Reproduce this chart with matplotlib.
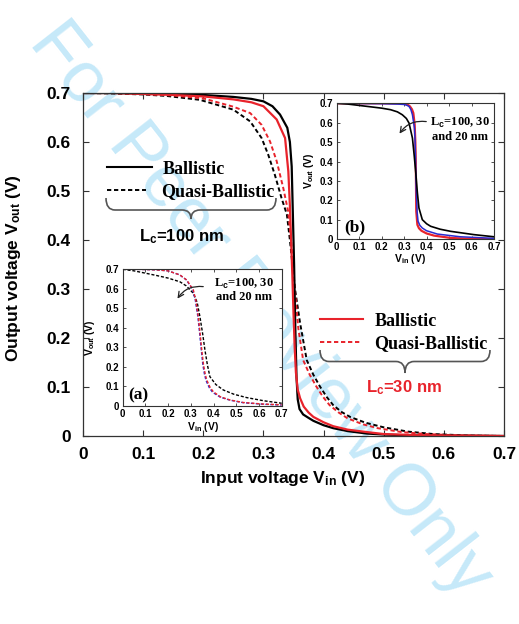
import matplotlib
matplotlib.use('Agg')
import matplotlib.pyplot as plt
from matplotlib.path import Path
from matplotlib.patches import PathPatch

plt.rcParams['mathtext.fontset'] = 'custom'
plt.rcParams['mathtext.rm'] = 'Liberation Sans:bold'
plt.rcParams['mathtext.bf'] = 'Liberation Sans:bold'
plt.rcParams['mathtext.it'] = 'Liberation Sans:bold'
plt.rcParams['mathtext.sf'] = 'Liberation Sans:bold'

# ---------------- data ----------------
ticks = [0, 0.1, 0.2, 0.3, 0.4, 0.5, 0.6, 0.7]
tick_labels = ['0', '0.1', '0.2', '0.3', '0.4', '0.5', '0.6', '0.7']

# main panel
bal100_x = [0, 0.05, 0.10, 0.15, 0.20, 0.25, 0.28, 0.30, 0.315, 0.3276, 0.3397, 0.344, 0.347, 0.349,
            0.351, 0.353, 0.355, 0.357, 0.360, 0.366, 0.375, 0.383, 0.40, 0.416, 0.44, 0.472, 0.50, 0.55, 0.60, 0.70]
bal100_y = [0.700, 0.700, 0.699, 0.698, 0.696, 0.692, 0.688, 0.683, 0.673, 0.656, 0.629, 0.600, 0.55, 0.45,
            0.35, 0.22, 0.12, 0.075, 0.055, 0.044, 0.037, 0.031, 0.022, 0.016, 0.010, 0.005, 0.003, 0.001, 0.0005, 0.0]

bal30_x = [0, 0.05, 0.10, 0.15, 0.20, 0.25, 0.28, 0.30, 0.322, 0.336, 0.3414, 0.344, 0.346, 0.348, 0.350,
           0.352, 0.354, 0.357, 0.361, 0.367, 0.375, 0.383, 0.40, 0.416, 0.44, 0.472, 0.50, 0.55, 0.60, 0.70]
bal30_y = [0.700, 0.700, 0.698, 0.696, 0.693, 0.687, 0.681, 0.673, 0.646, 0.608, 0.540, 0.47, 0.40, 0.33, 0.25,
           0.18, 0.13, 0.095, 0.077, 0.060, 0.048, 0.039, 0.028, 0.020, 0.013, 0.008, 0.004, 0.002, 0.001, 0.0]

qb100_x = [0, 0.05, 0.10, 0.139, 0.1945, 0.25, 0.278, 0.297, 0.308, 0.319, 0.330, 0.339, 0.344, 0.3525, 0.361,
           0.372, 0.383, 0.394, 0.405, 0.416, 0.43, 0.444, 0.47, 0.499, 0.54, 0.5825, 0.63, 0.70]
qb100_y = [0.700, 0.699, 0.697, 0.694, 0.686, 0.666, 0.642, 0.608, 0.574, 0.533, 0.486, 0.452, 0.40, 0.30, 0.23,
           0.155, 0.125, 0.101, 0.080, 0.063, 0.049, 0.039, 0.027, 0.018, 0.009, 0.004, 0.0015, 0.0]

qb30_x = [0, 0.05, 0.10, 0.15, 0.20, 0.25, 0.278, 0.297, 0.311, 0.322, 0.333, 0.341, 0.346, 0.352, 0.358,
          0.366, 0.377, 0.388, 0.399, 0.41, 0.425, 0.44, 0.465, 0.49, 0.53, 0.57, 0.62, 0.70]
qb30_y = [0.700, 0.700, 0.698, 0.695, 0.689, 0.672, 0.659, 0.635, 0.601, 0.561, 0.506, 0.459, 0.40, 0.30, 0.22,
          0.155, 0.125, 0.101, 0.080, 0.063, 0.048, 0.036, 0.024, 0.016, 0.008, 0.004, 0.0015, 0.0]

# inset (a): quasi-ballistic, Lc = 100, 30, 20 nm
a100_x = [0, 0.05, 0.105, 0.15, 0.20, 0.252, 0.28, 0.311, 0.328, 0.340, 0.352, 0.362, 0.373, 0.384, 0.41,
          0.443, 0.49, 0.546, 0.62, 0.70]
a100_y = [0.700, 0.692, 0.679, 0.668, 0.655, 0.636, 0.615, 0.577, 0.53, 0.457, 0.37, 0.287, 0.21, 0.150, 0.11,
          0.082, 0.06, 0.043, 0.027, 0.014]
a30_x = [0, 0.05, 0.10, 0.15, 0.20, 0.252, 0.282, 0.311, 0.322, 0.333, 0.341, 0.348, 0.356, 0.363, 0.370,
         0.385, 0.399, 0.43, 0.472, 0.53, 0.619, 0.70]
a30_y = [0.700, 0.700, 0.699, 0.697, 0.692, 0.671, 0.645, 0.594, 0.54, 0.457, 0.37, 0.287, 0.21, 0.165, 0.133,
         0.095, 0.073, 0.047, 0.031, 0.018, 0.010, 0.006]
a20_x = [0, 0.05, 0.10, 0.15, 0.20, 0.25, 0.28, 0.309, 0.320, 0.331, 0.339, 0.346, 0.353, 0.360, 0.367,
         0.382, 0.396, 0.43, 0.472, 0.53, 0.619, 0.70]
a20_y = [0.700, 0.700, 0.699, 0.697, 0.692, 0.672, 0.646, 0.595, 0.54, 0.457, 0.37, 0.287, 0.21, 0.163, 0.130,
         0.092, 0.070, 0.045, 0.030, 0.017, 0.009, 0.005]

# inset (b): ballistic, Lc = 100, 30, 20 nm
b100_x = [0, 0.05, 0.136, 0.20, 0.240, 0.270, 0.292, 0.310, 0.322, 0.337, 0.345, 0.352, 0.359, 0.366, 0.381,
          0.40, 0.418, 0.46, 0.507, 0.611, 0.70]
b100_y = [0.700, 0.696, 0.684, 0.675, 0.667, 0.656, 0.641, 0.622, 0.598, 0.521, 0.43, 0.341, 0.24, 0.161, 0.101,
          0.080, 0.067, 0.052, 0.041, 0.024, 0.013]
b30_x = [0, 0.10, 0.20, 0.28, 0.30, 0.315, 0.326, 0.335, 0.341, 0.347, 0.350, 0.352, 0.354, 0.359, 0.366,
         0.377, 0.40, 0.433, 0.507, 0.60, 0.70]
b30_y = [0.700, 0.700, 0.700, 0.699, 0.698, 0.694, 0.684, 0.669, 0.650, 0.590, 0.50, 0.39, 0.144, 0.075, 0.057,
         0.044, 0.030, 0.019, 0.007, 0.002, 0.001]
b20_x = [0, 0.10, 0.20, 0.27, 0.30, 0.312, 0.322, 0.330, 0.337, 0.346, 0.349, 0.351, 0.354, 0.358, 0.362,
         0.370, 0.381, 0.40, 0.448, 0.55, 0.70]
b20_y = [0.700, 0.699, 0.698, 0.696, 0.694, 0.690, 0.684, 0.668, 0.641, 0.573, 0.50, 0.40, 0.25, 0.14, 0.093,
         0.072, 0.058, 0.044, 0.027, 0.013, 0.005]

# ---------------- figure ----------------
W, H = 519, 624
fig = plt.figure(figsize=(W / 100, H / 100), dpi=100)

# watermark
fig.text(260 / W, 1 - 310 / H, 'For Peer Review Only', rotation=-52, rotation_mode='anchor',
         ha='center', va='center', fontsize=52, family='Liberation Sans', color='#c6e9f9', zorder=-5)

RED = '#e8232b'
BLUE = '#2a2ad0'
SPINE = '#333333'


def px_axes(l, t, r, b):
    return [l / W, 1 - b / H, (r - l) / W, (b - t) / H]


ax = fig.add_axes(px_axes(83, 93, 504, 436))
ax.set_facecolor('none')
dash = (0, (2.2, 1.4))
ax.plot(qb100_x, qb100_y, color='black', lw=1.4, ls=dash)
ax.plot(qb30_x, qb30_y, color=RED, lw=1.4, ls=dash)
ax.plot(bal100_x, bal100_y, color='black', lw=1.6)
ax.plot(bal30_x, bal30_y, color=RED, lw=1.6)
ax.set_xlim(0, 0.7)
ax.set_ylim(0, 0.7)
ax.set_xticks(ticks)
ax.set_xticklabels(tick_labels)
ax.set_yticks(ticks)
ax.set_yticklabels(tick_labels)
ax.tick_params(direction='in', length=4, width=0.8, top=True, right=True, color=SPINE)
ax.tick_params(axis='x', pad=8)
ax.tick_params(axis='y', pad=9)
for lab in ax.get_xticklabels() + ax.get_yticklabels():
    lab.set_fontfamily('Liberation Sans')
    lab.set_fontweight('bold')
    lab.set_fontsize(12.5)
for s in ax.spines.values():
    s.set_color(SPINE)
    s.set_linewidth(0.9)


def style_inset(a):
    a.set_facecolor('white')
    a.set_xlim(0, 0.7)
    a.set_ylim(0, 0.7)
    a.set_xticks(ticks)
    a.set_xticklabels(tick_labels)
    a.set_yticks(ticks)
    a.set_yticklabels(tick_labels)
    a.tick_params(direction='in', length=2.5, width=0.6, top=True, right=True, color=SPINE)
    a.tick_params(axis='x', pad=2)
    a.tick_params(axis='y', pad=2.5)
    for lab in a.get_xticklabels() + a.get_yticklabels():
        lab.set_fontfamily('Liberation Sans')
        lab.set_fontweight('bold')
        lab.set_fontsize(7)
    for s in a.spines.values():
        s.set_color(SPINE)
        s.set_linewidth(0.8)


axa = fig.add_axes(px_axes(122.7, 269.3, 281.7, 406))
dsh = (0, (2.2, 1.3))
axa.plot(a100_x, a100_y, color='black', lw=1.0, ls=dsh)
axa.plot(a20_x, a20_y, color=BLUE, lw=1.0, ls=dsh)
axa.plot(a30_x, a30_y, color=RED, lw=1.0, ls=dsh)
style_inset(axa)

axb = fig.add_axes(px_axes(336.7, 103.3, 494, 239.3))
axb.plot(b30_x, b30_y, color=RED, lw=1.6)
axb.plot(b20_x, b20_y, color=BLUE, lw=1.1)
axb.plot(b100_x, b100_y, color='black', lw=1.2)
style_inset(axb)

# ---------------- overlay for annotations ----------------
ov = fig.add_axes([0, 0, 1, 1], zorder=10)
ov.set_xlim(0, W)
ov.set_ylim(H, 0)
ov.axis('off')
ov.set_facecolor('none')

SERIF = 'Liberation Serif'
SANS = 'Liberation Sans'

# axis labels
ov.text(283, 479, 'Input voltage V$_{in}$ (V)', ha='center', va='center', fontsize=12.5,
        family=SANS, weight='bold')
ov.text(14, 268, 'Output voltage V$_{out}$ (V)', ha='center', va='center', rotation=90, fontsize=12.5,
        family=SANS, weight='bold')

# legend group Lc = 100 nm
ov.plot([107, 152], [167, 167], color='black', lw=1.5)
ov.plot([107, 146], [190, 190], color='black', lw=1.4, ls=dash)
ov.text(163, 170, 'Ballistic', ha='left', va='center', fontsize=13, family=SERIF, weight='bold')
ov.text(161, 192, 'Quasi-Ballistic', ha='left', va='center', fontsize=13, family=SERIF, weight='bold')
ov.text(182, 237, 'L$_c$=100 nm', ha='center', va='center', fontsize=12, family=SANS, weight='bold')

# legend group Lc = 30 nm
ov.plot([320, 363], [319, 319], color=RED, lw=1.5)
ov.plot([320, 360], [342, 342], color=RED, lw=1.4, ls=dash)
ov.text(375, 322, 'Ballistic', ha='left', va='center', fontsize=13, family=SERIF, weight='bold')
ov.text(374, 344, 'Quasi-Ballistic', ha='left', va='center', fontsize=13, family=SERIF, weight='bold')
ov.text(404, 388, 'L$_c$=30 nm', ha='center', va='center', fontsize=12, family=SANS, weight='bold',
        color=RED)


def brace(x0, x1, ytop, yline, xm, ytip, r=9):
    verts = [(x0, ytop), (x0, yline), (x0 + r, yline),
             (xm - r, yline), (xm, yline), (xm, ytip),
             (xm, yline), (xm + r, yline),
             (x1 - r, yline), (x1, yline), (x1, ytop)]
    codes = [Path.MOVETO, Path.CURVE3, Path.CURVE3,
             Path.LINETO, Path.CURVE3, Path.CURVE3,
             Path.CURVE3, Path.CURVE3,
             Path.LINETO, Path.CURVE3, Path.CURVE3]
    ov.add_patch(PathPatch(Path(verts, codes), fill=False, edgecolor='#555555', lw=1.2))


brace(106, 276, 198, 210, 191, 219)
brace(320, 490, 350, 361.5, 405, 373)

# inset annotations
ov.text(244, 290, 'L$_c$=100, 30\nand 20 nm', ha='center', va='center', fontsize=9, family=SERIF,
        weight='bold', linespacing=1.1)
ov.annotate('', xy=(176, 301), xytext=(206, 287),
            arrowprops=dict(arrowstyle='->', color='#222222', lw=0.9, connectionstyle='arc3,rad=0.35'))
ov.text(460, 129, 'L$_c$=100, 30\nand 20 nm', ha='center', va='center', fontsize=9, family=SERIF,
        weight='bold', linespacing=1.1)
ov.annotate('', xy=(398, 136), xytext=(429, 122),
            arrowprops=dict(arrowstyle='->', color='#222222', lw=0.9, connectionstyle='arc3,rad=0.35'))

ov.text(138, 395, '(a)', ha='center', va='center', fontsize=12.5, family=SERIF, weight='bold')
ov.text(355, 227, '(b)', ha='center', va='center', fontsize=12.5, family=SERIF, weight='bold')

# inset axis labels
ov.text(90, 338, 'V$_{out}$ (V)', ha='center', va='center', rotation=90, fontsize=7.5, family=SANS,
        weight='bold')
ov.text(203, 427, 'V$_{in}$ (V)', ha='center', va='center', fontsize=7.5, family=SANS, weight='bold')
ov.text(309, 171, 'V$_{out}$ (V)', ha='center', va='center', rotation=90, fontsize=7.5, family=SANS,
        weight='bold')
ov.text(410, 259, 'V$_{in}$ (V)', ha='center', va='center', fontsize=7.5, family=SANS, weight='bold')

fig.savefig('out.png', dpi=100)
